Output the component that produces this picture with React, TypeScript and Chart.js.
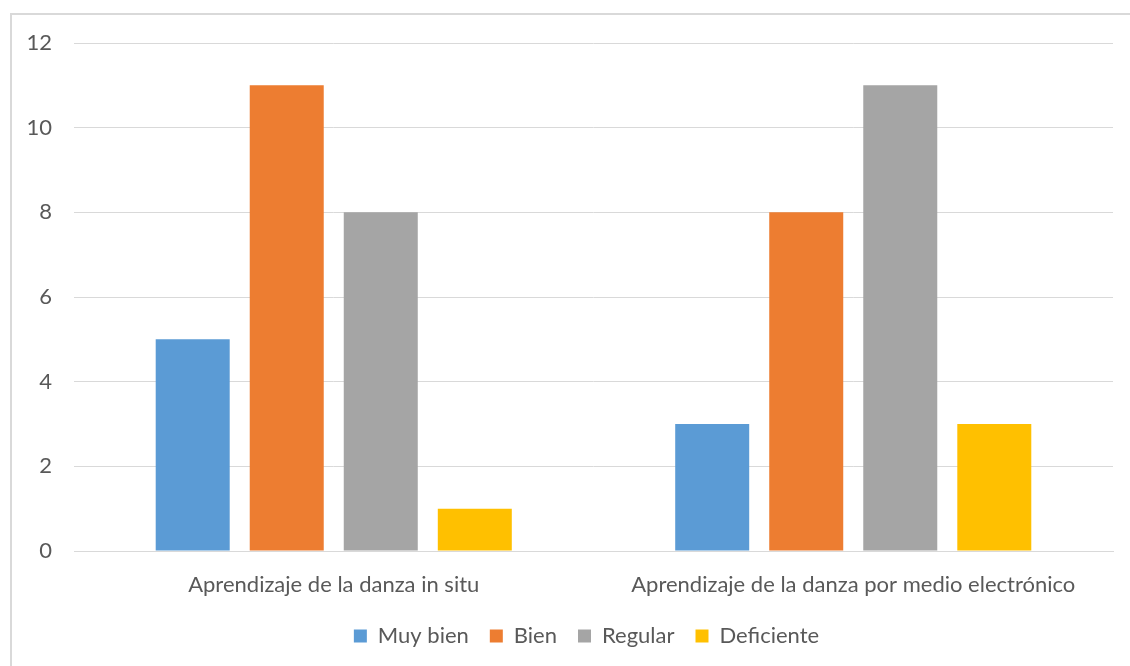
import React, { useEffect, useRef } from "react";
import { Chart, registerables } from "chart.js";

Chart.register(...registerables);

const categories = [
  "Aprendizaje de la danza in situ",
  "Aprendizaje de la danza por medio electrónico",
];
const seriesNames = ["Muy bien", "Bien", "Regular", "Deficiente"];
const muyBien = [5, 3];
const bien = [11, 8];
const regular = [8, 11];
const deficiente = [1, 3];
const seriesColors = ["#5B9BD5", "#ED7D31", "#A5A5A5", "#FFC000"];
const yTicks = [0, 2, 4, 6, 8, 10, 12];

const FONT = "Lato, 'Open Sans', sans-serif";
const TEXT = "#595959";

// Nudges the legend block so it sits centred under the full framed area.
const legendShift = {
  id: "legendShift",
  afterLayout(chart: any) {
    const lg = chart.legend;
    if (!lg) return;
    lg.left += 25;
    lg.right += 25;
    lg.top += 1;
    lg.bottom += 1;
  },
};

export default function App() {
  const canvasRef = useRef<HTMLCanvasElement | null>(null);

  useEffect(() => {
    document.body.style.margin = "0";
    document.body.style.overflow = "hidden";
    const values = [muyBien, bien, regular, deficiente];
    const chart = new Chart(canvasRef.current as HTMLCanvasElement, {
      type: "bar",
      data: {
        labels: categories,
        datasets: seriesNames.map((name, i) => ({
          label: name,
          data: values[i],
          backgroundColor: seriesColors[i],
          borderWidth: 0,
          categoryPercentage: 0.724,
          barPercentage: 0.787,
        })),
      },
      plugins: [legendShift],
      options: {
        animation: false,
        responsive: false,
        maintainAspectRatio: false,
        layout: { padding: { left: 10, right: 17, top: 43, bottom: 10 } },
        scales: {
          y: {
            min: 0,
            max: 12,
            afterFit: (s: any) => {
              s.width = 64;
            },
            afterBuildTicks: (s: any) => {
              s.ticks = yTicks.map((v) => ({ value: v }));
            },
            border: { display: false },
            grid: { color: "#D9D9D9", lineWidth: 1, drawTicks: false },
            ticks: {
              padding: 22,
              color: TEXT,
              font: { family: FONT, size: 22 },
            },
          },
          x: {
            afterFit: (s: any) => {
              s.height = 52;
            },
            border: { display: true, color: "#D9D9D9", width: 1 },
            grid: { display: false, drawTicks: false },
            ticks: {
              padding: 21,
              color: TEXT,
              font: { family: FONT, size: 22 },
              maxRotation: 0,
            },
          },
        },
        plugins: {
          legend: {
            position: "bottom",
            labels: {
              boxWidth: 13,
              boxHeight: 13,
              padding: 21,
              color: TEXT,
              font: { family: FONT, size: 22 },
            },
          },
          tooltip: { enabled: false },
        },
      },
    });
    return () => chart.destroy();
  }, []);

  return (
    <div
      style={{
        position: "absolute",
        left: 0,
        top: 0,
        width: 1130,
        height: 666,
        background: "#fff",
        overflow: "hidden",
      }}
    >
      <div
        style={{
          position: "absolute",
          left: 10,
          top: 13,
          width: 1200,
          height: 700,
          borderTop: "2px solid #D9D9D9",
          borderLeft: "2px solid #D9D9D9",
          boxSizing: "border-box",
        }}
      />
      <canvas
        ref={canvasRef}
        width={1130}
        height={666}
        style={{ position: "absolute", left: 0, top: 0 }}
      />
    </div>
  );
}
